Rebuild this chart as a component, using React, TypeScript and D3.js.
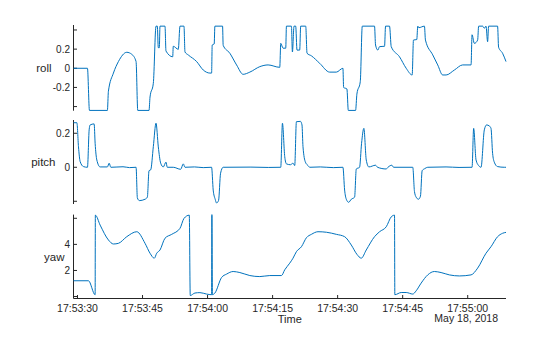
import React from "react";
import * as d3 from "d3";

const BASE = Date.UTC(2018, 4, 18, 17, 53, 30);
const timeStart = -0.92;
const timeEnd = 98.83;

const variableNames = ["roll", "pitch", "yaw"];
const dateLabel = "May 18, 2018";
const axisTitle = "Time";

const rollTime = [-0.92, 2.3, 2.76, 6.9, 7.13, 8.29, 9.44, 11.37, 12.52, 13.51, 13.9, 16.5, 16.73, 17.49, 18.11, 18.41, 18.64, 18.87, 19.03, 20.18, 20.41, 21.96, 22.09, 23.25, 23.64, 24.56, 24.79, 25.55, 27.48, 29.0, 30.54, 30.93, 31.07, 31.53, 31.69, 33.46, 33.6, 35.14, 36.69, 38.2, 39.75, 42.05, 43.96, 46.65, 46.88, 47.41, 48.03, 48.19, 49.34, 49.57, 49.94, 50.33, 50.63, 51.25, 51.48, 52.64, 52.94, 53.95, 55.86, 58.16, 59.7, 61.22, 61.38, 62.14, 62.46, 64.14, 64.44, 65.22, 65.68, 68.51, 68.74, 69.27, 69.67, 70.82, 71.05, 71.97, 72.36, 74.27, 75.81, 77.19, 77.49, 78.25, 78.48, 78.71, 80.02, 80.25, 81.93, 83.08, 84.23, 85.02, 86.93, 88.84, 90.77, 91.0, 91.53, 92.29, 92.52, 93.44, 93.83, 94.22, 94.59, 94.82, 96.89, 97.12, 98.04, 98.83];
const rollValue = [0, 0, -0.44, -0.44, -0.24, -0.05, 0.07, 0.167, 0.146, 0.07, -0.44, -0.44, -0.3, -0.157, 0.44, 0.44, 0.215, 0.215, 0.44, 0.44, 0.18, 0.12, 0.23, 0.198, 0.44, 0.44, 0.17, 0.139, 0.07, -0.018, -0.05, -0.05, 0.243, 0.254, 0.44, 0.44, 0.24, 0.157, 0.035, -0.063, -0.04, 0.017, 0.035, 0.01, 0.26, 0.21, 0.21, 0.44, 0.44, 0.17, 0.44, 0.44, 0.19, 0.19, 0.44, 0.44, 0.157, 0.13, 0.052, -0.04, -0.04, 0.0, -0.2, -0.216, -0.44, -0.44, -0.27, -0.14, 0.44, 0.44, 0.243, 0.19, 0.226, 0.23, 0.44, 0.44, 0.226, 0.12, 0.0, -0.07, 0.295, 0.3, 0.44, 0.424, 0.44, 0.295, 0.14, 0.035, -0.07, -0.07, -0.018, 0.035, 0.035, 0.35, 0.26, 0.295, 0.44, 0.44, 0.418, 0.44, 0.278, 0.44, 0.44, 0.22, 0.157, 0.07];

const pitchTime = [-0.92, -0.14, 0.23, 0.62, 1.38, 2.3, 2.69, 2.92, 3.84, 4.07, 4.46, 5.22, 6.9, 7.3, 7.69, 10.5, 12.0, 13.51, 13.81, 14.27, 15.58, 16.11, 16.5, 16.89, 17.49, 18.11, 18.64, 19.19, 19.79, 20.41, 20.71, 22.09, 23.8, 24.4, 24.79, 27.0, 29.0, 30.93, 31.3, 31.76, 32.08, 32.54, 33.0, 33.6, 40.0, 44.0, 46.88, 47.27, 47.8, 48.19, 49.11, 49.71, 50.1, 50.49, 51.42, 51.78, 52.01, 52.57, 53.17, 53.56, 56.0, 59.0, 61.22, 61.61, 62.0, 62.53, 63.15, 63.91, 64.3, 65.06, 65.52, 66.05, 66.6, 67.2, 68.74, 69.2, 71.21, 71.6, 72.5, 72.9, 77.33, 77.72, 78.11, 78.64, 79.1, 79.49, 80.09, 80.78, 85.0, 88.0, 91.0, 91.37, 91.92, 92.52, 93.07, 93.83, 94.36, 94.98, 95.37, 95.74, 96.13, 96.89, 98.43, 98.83];
const pitchValue = [0.262, 0.262, 0.12, 0.033, 0.004, 0, 0.22, 0.249, 0.255, 0.141, 0.043, 0.002, 0.002, 0.024, 0, 0.003, -0.002, 0, -0.18, -0.196, -0.188, -0.176, -0.02, -0.015, 0.121, 0.259, 0.12, 0.024, 0.002, 0.03, 0, 0, -0.012, 0.02, 0, 0.002, -0.002, 0, -0.134, -0.188, -0.21, -0.195, -0.035, 0, 0.001, -0.001, 0, 0.259, 0.062, 0.02, 0.015, 0.024, 0.01, 0.268, 0.27, 0.249, 0.121, 0.03, 0.01, 0, 0.002, -0.002, 0, -0.134, -0.188, -0.206, -0.188, -0.176, -0.01, 0, 0.141, 0.229, 0.043, 0.002, 0.012, 0, -0.01, 0, 0.012, 0, 0, -0.143, -0.176, -0.188, -0.17, -0.02, -0.008, 0, 0.002, -0.001, 0, 0.229, 0.043, 0.01, 0, 0.22, 0.249, 0.243, 0.229, 0.082, 0.03, 0.004, 0, 0];

const yawTime = [-0.92, 2.53, 4.07, 4.12, 5.22, 7.13, 8.29, 9.44, 11.37, 13.67, 15.58, 16.73, 17.72, 18.27, 19.03, 20.18, 21.73, 23.64, 24.56, 25.78, 26.01, 27.09, 28.24, 29.78, 30.93, 31.0, 31.12, 31.69, 33.23, 34.38, 35.9, 37.45, 39.75, 42.05, 44.35, 47.04, 47.8, 48.95, 49.71, 50.49, 51.65, 52.8, 53.95, 55.47, 57.4, 59.7, 61.61, 63.15, 64.44, 65.45, 66.6, 68.51, 69.67, 71.21, 72.36, 73.12, 73.19, 74.66, 75.81, 77.33, 78.11, 79.26, 80.78, 82.32, 83.86, 85.77, 88.07, 90.77, 92.29, 94.22, 95.37, 96.89, 98.04, 98.83];
const yawValue = [1.21, 1.21, 0.14, 6.24, 5.48, 4.34, 4.03, 4.08, 4.59, 4.97, 4.08, 3.32, 2.94, 3.32, 3.57, 4.47, 4.77, 5.23, 5.99, 6.24, 0.08, 0.27, 0.3, 0.19, 0.14, 6.28, 0.14, 0.27, 1.46, 1.72, 1.92, 1.84, 1.61, 1.53, 1.61, 1.61, 2.05, 2.56, 2.94, 3.44, 3.82, 4.51, 4.77, 4.97, 4.93, 4.77, 4.59, 3.95, 3.24, 2.94, 3.57, 4.59, 4.97, 5.35, 6.11, 6.24, 0.14, 0.31, 0.31, 0.19, 0.44, 1.03, 1.66, 1.92, 1.84, 1.66, 1.58, 1.66, 2.18, 3.32, 3.82, 4.59, 4.85, 4.92];

const rollTicks = [-0.4, -0.2, 0, 0.2, 0.4];
const rollTickLabels = ["", "-0.2", "0", "0.2", ""];
const pitchTicks = [-0.2, 0, 0.2];
const pitchTickLabels = ["", "0", "0.2"];
const yawTicks = [0, 2, 4, 6];
const yawTickLabels = ["", "2", "4", ""];

const W = 560;
const H = 337;
const X0 = 73.5;
const X1 = 506;
const LINE = "#0072BD";
const AX = "#262626";
const FONT = "'Liberation Sans', Arial, Helvetica, sans-serif";

const panels = [
  { name: variableNames[0], time: rollTime, value: rollValue, ticks: rollTicks, labels: rollTickLabels, domain: [-0.443, 0.452], top: 25, bottom: 110.7, labelEnd: 51.5 },
  { name: variableNames[1], time: pitchTime, value: pitchValue, ticks: pitchTicks, labels: pitchTickLabels, domain: [-0.216, 0.278], top: 120, bottom: 204, labelEnd: 55.5 },
  { name: variableNames[2], time: yawTime, value: yawValue, ticks: yawTicks, labels: yawTickLabels, domain: [-0.15, 6.2832], top: 214.6, bottom: 298.5, labelEnd: 64.5 },
];

export default function App() {
  const x = d3
    .scaleUtc()
    .domain([new Date(BASE + timeStart * 1000), new Date(BASE + timeEnd * 1000)])
    .range([X0, X1]);
  const xTicks = x.ticks(d3.utcSecond.every(15) as any);
  const fmt = d3.utcFormat("%H:%M:%S");
  const axisY = panels[2].bottom;

  return (
    <svg width={W} height={H} style={{ position: "absolute", left: 0, top: 0, background: "#fff" }} fontFamily={FONT}>
      <rect x={0} y={0} width={W} height={H} fill="#fff" />
      {panels.map((p) => {
        const y = d3.scaleLinear().domain(p.domain).range([p.bottom, p.top]);
        const pts = p.time.map((t, i) => [t, p.value[i]] as [number, number]);
        const line = d3
          .line<[number, number]>()
          .x((d) => x(new Date(BASE + d[0] * 1000)))
          .y((d) => y(d[1]))
          .curve(d3.curveMonotoneX);
        return (
          <g key={p.name}>
            <line x1={X0} x2={X0} y1={p.top} y2={p.bottom} stroke={AX} strokeWidth={1} />
            {p.ticks.map((t, i) => (
              <g key={i}>
                <line x1={X0} x2={X0 + 3.5} y1={y(t)} y2={y(t)} stroke={AX} strokeWidth={1} />
                {p.labels[i] !== "" && (
                  <text x={X0 - 3.5} y={y(t)} dy="0.35em" textAnchor="end" fontSize={10} fill={AX}>
                    {p.labels[i]}
                  </text>
                )}
              </g>
            ))}
            <text x={p.labelEnd} y={(p.top + p.bottom) / 2} dy="0.35em" textAnchor="end" fontSize={11.5} fill={AX}>
              {p.name}
            </text>
            <path d={line(pts) || ""} fill="none" stroke={LINE} strokeWidth={1} strokeLinejoin="round" />
          </g>
        );
      })}
      <line x1={X0} x2={X1} y1={axisY} y2={axisY} stroke={AX} strokeWidth={1} />
      {xTicks.map((t, i) => (
        <g key={i}>
          <line x1={x(t)} x2={x(t)} y1={axisY} y2={axisY - 3.5} stroke={AX} strokeWidth={1} />
          <text x={x(t)} y={axisY + 13} textAnchor="middle" fontSize={10.5} fill={AX}>
            {fmt(t)}
          </text>
        </g>
      ))}
      <text x={(X0 + X1) / 2} y={axisY + 24.5} textAnchor="middle" fontSize={11} fill={AX}>
        {axisTitle}
      </text>
      <text x={X1 - 8} y={axisY + 23.5} textAnchor="end" fontSize={10.5} fill={AX}>
        {dateLabel}
      </text>
    </svg>
  );
}
